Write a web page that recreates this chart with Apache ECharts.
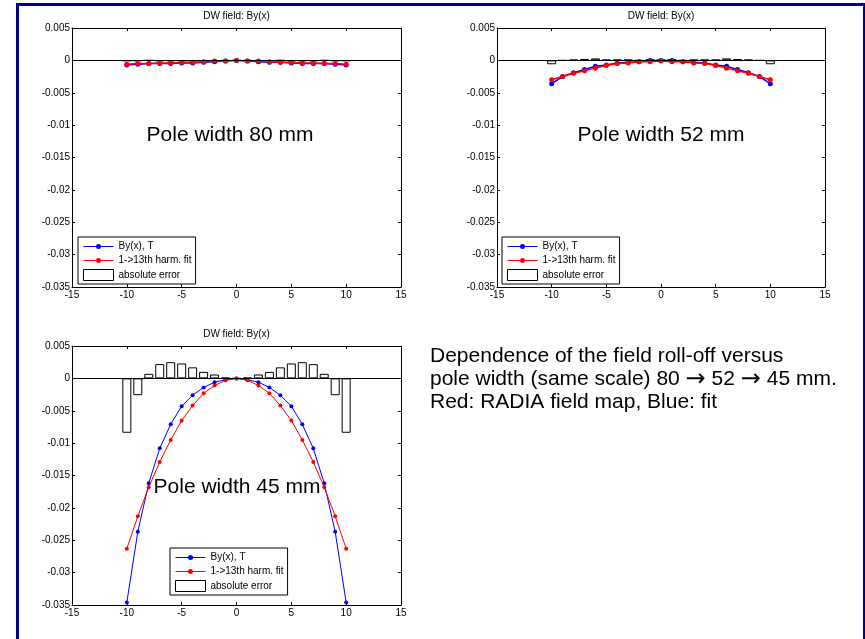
<!DOCTYPE html>
<html>
<head>
<meta charset="utf-8">
<script src="https://cdn.jsdelivr.net/npm/echarts@6.0.0/dist/echarts.min.js"></script>
<style>
  html, body { margin: 0; padding: 0; background: #fff; }
  #chart { width: 865px; height: 639px; }
</style>
</head>
<body>
<div id="chart"></div>
<script>
// x positions (mm)
const xs = [-10, -9, -8, -7, -6, -5, -4, -3, -2, -1, 0, 1, 2, 3, 4, 5, 6, 7, 8, 9, 10];
const xTicks = [-15, -10, -5, 0, 5, 10, 15];
const yTicks = ['-0.035', '-0.03', '-0.025', '-0.02', '-0.015', '-0.01', '-0.005', '0', '0.005'];

// pole width 80 mm
const blue80 = [-0.0007, -0.0006, -0.0005, -0.0005, -0.0005, -0.0004, -0.0004, -0.0003, -0.0002, -0.0001, 0,
  -0.0001, -0.0002, -0.0003, -0.0003, -0.0004, -0.0005, -0.0005, -0.0005, -0.0006, -0.0007];
const red80 = [-0.0006, -0.0005, -0.0005, -0.0004, -0.0004, -0.0003, -0.0003, -0.0002, -0.0001, -0.0001, 0,
  -0.0001, -0.0001, -0.0002, -0.0003, -0.0003, -0.0004, -0.0004, -0.0005, -0.0005, -0.0006];
const err80 = [-0.0001, -0.0001, 0, -0.0001, -0.0001, -0.0001, -0.0001, -0.0001, -0.0001, 0, 0,
  0, -0.0001, -0.0001, 0, -0.0001, -0.0001, -0.0001, 0, -0.0001, -0.0001];

// pole width 52 mm
const blue52 = [-0.0036, -0.0025, -0.0019, -0.0014, -0.0009, -0.0007, -0.0004, -0.0003, -0.0002, 0, 0,
  0, -0.0002, -0.0003, -0.0004, -0.0007, -0.0009, -0.0014, -0.0019, -0.0025, -0.0036];
const red52 = [-0.0030, -0.0025, -0.0020, -0.0016, -0.0012, -0.0008, -0.0005, -0.0004, -0.0002, -0.0002, -0.0001,
  -0.0002, -0.0002, -0.0004, -0.0005, -0.0008, -0.0012, -0.0016, -0.0020, -0.0025, -0.0030];
const err52 = [-0.0006, 0, 0.0001, 0.0002, 0.0003, 0.0001, 0.0001, 0.0001, 0, 0.0002, 0.0001,
  0.0002, 0, 0.0001, 0.0001, 0.0001, 0.0003, 0.0002, 0.0001, 0, -0.0006];

// pole width 45 mm
const blue45 = [-0.0346, -0.0237, -0.0162, -0.0108, -0.0071, -0.0043, -0.0026, -0.0014, -0.0006, -0.0002, 0,
  -0.0002, -0.0006, -0.0014, -0.0026, -0.0043, -0.0071, -0.0108, -0.0162, -0.0237, -0.0346];
const red45 = [-0.0263, -0.0213, -0.0168, -0.0129, -0.0095, -0.0065, -0.0042, -0.0023, -0.0011, -0.0003, 0,
  -0.0003, -0.0011, -0.0023, -0.0042, -0.0065, -0.0095, -0.0129, -0.0168, -0.0213, -0.0263];
const err45 = [-0.0084, -0.0026, 0.0007, 0.0022, 0.0025, 0.0023, 0.0017, 0.0010, 0.0006, 0.0001, 0,
  0.0001, 0.0006, 0.0010, 0.0017, 0.0023, 0.0025, 0.0022, 0.0007, -0.0026, -0.0084];

const FONT = "'Liberation Sans', Arial, sans-serif";
const NAMES = ['By(x), T', '1->13th harm. fit', 'absolute error'];
const LINE_ICON = 'path://M0,0M30,11M0,5h30v1h-30zM17.5,5.5a2.5,2.5,0,1,1,-5,0a2.5,2.5,0,1,1,5,0z';

const panels = [
  { grid: { left: 72, top: 28, width: 329, height: 259 }, blue: blue80, red: red80, err: err80,
    legend: { left: 78, top: 237 }, label: 'Pole width 80 mm', labelPos: [230, 135], sym: 5, lw: 1.5 },
  { grid: { left: 497, top: 28, width: 328, height: 259 }, blue: blue52, red: red52, err: err52,
    legend: { left: 502, top: 237 }, label: 'Pole width 52 mm', labelPos: [661, 135], sym: 5, lw: 1.5 },
  { grid: { left: 72, top: 346, width: 329, height: 259 }, blue: blue45, red: red45, err: err45,
    legend: { left: 170, top: 548 }, label: 'Pole width 45 mm', labelPos: [237, 487], sym: 4, lw: 1 }
];

const pairs = (vals) => xs.map((x, i) => [x, vals[i]]);

const grid = [], xAxis = [], yAxis = [], series = [], legend = [], graphic = [];

panels.forEach((p, k) => {
  grid.push(p.grid);
  const axisCommon = {
    type: 'value',
    gridIndex: k,
    axisLine: { show: true, onZero: false, lineStyle: { color: '#000', width: 1 } },
    axisTick: { show: true, inside: true, length: 3, lineStyle: { color: '#000' } },
    splitLine: { show: false }
  };
  ['bottom', 'top'].forEach((pos, j) => {
    xAxis.push(Object.assign({}, axisCommon, {
      position: pos, min: xTicks[0], max: xTicks[xTicks.length - 1], interval: 5,
      axisLabel: { show: j === 0, color: '#000', fontSize: 10, fontFamily: FONT, margin: 3 }
    }));
  });
  ['left', 'right'].forEach((pos, j) => {
    yAxis.push(Object.assign({}, axisCommon, {
      position: pos, min: -0.035, max: 0.005, interval: 0.005,
      axisLabel: {
        show: j === 0, color: '#000', fontSize: 10, fontFamily: FONT, margin: 2,
        formatter: (v) => yTicks[Math.round((v + 0.035) / 0.005)]
      }
    }));
  });

  series.push({
    name: NAMES[2], type: 'bar', xAxisIndex: 2 * k, yAxisIndex: 2 * k,
    data: pairs(p.err), barWidth: 9, z: 1,
    itemStyle: { color: '#fff', borderColor: '#000', borderWidth: 1 },
    markLine: {
      silent: true, symbol: ['none', 'none'], label: { show: false },
      lineStyle: { color: '#000', width: 1, type: 'solid' },
      data: [{ yAxis: 0 }]
    }
  });
  series.push({
    name: NAMES[0], type: 'line', xAxisIndex: 2 * k, yAxisIndex: 2 * k,
    data: pairs(p.blue), symbol: 'circle', symbolSize: p.sym, z: 3,
    lineStyle: { color: '#0000ff', width: p.lw }, itemStyle: { color: '#0000ff' }
  });
  series.push({
    name: NAMES[1], type: 'line', xAxisIndex: 2 * k, yAxisIndex: 2 * k,
    data: pairs(p.red), symbol: 'circle', symbolSize: p.sym, z: 4,
    lineStyle: { color: '#ff0000', width: p.lw }, itemStyle: { color: '#ff0000' }
  });

  legend.push({
    left: p.legend.left, top: p.legend.top, orient: 'vertical',
    itemWidth: 30, itemHeight: 11, itemGap: 3, selectedMode: false,
    padding: [4, 4, 3, 5], backgroundColor: '#fff', borderColor: '#000', borderWidth: 1,
    textStyle: { color: '#000', fontSize: 10, fontFamily: FONT },
    data: [
      { name: NAMES[0], icon: LINE_ICON },
      { name: NAMES[1], icon: LINE_ICON },
      { name: NAMES[2], icon: 'rect', itemStyle: { color: '#fff', borderColor: '#000', borderWidth: 1 } }
    ]
  });

  graphic.push({
    type: 'text', x: p.grid.left + p.grid.width / 2, y: p.grid.top - 12, z: 10,
    style: { text: 'DW field: By(x)', font: '10px ' + FONT, fill: '#000', align: 'center', verticalAlign: 'middle' }
  });
  graphic.push({
    type: 'text', x: p.labelPos[0], y: p.labelPos[1], z: 10,
    style: { text: p.label, font: '21px ' + FONT, fill: '#000', align: 'center', verticalAlign: 'middle' }
  });
});

graphic.push({
  type: 'text', x: 430, y: 345, z: 10,
  style: {
    text: 'Dependence of the field roll-off versus\npole width (same scale) 80 {a|\u2192} 52 {a|\u2192} 45 mm.\nRed: RADIA field map, Blue: fit',
    font: '21px ' + FONT, fill: '#000', lineHeight: 23, align: 'left', verticalAlign: 'top',
    rich: {
      a: { fontFamily: "'DejaVu Sans', sans-serif", fontSize: 24, lineHeight: 23, fill: '#000' }
    }
  }
});
// slide frame
graphic.push({
  type: 'polyline', z: 20, silent: true,
  shape: { points: [[17.5, 700], [17.5, 4.5], [864.5, 4.5], [864.5, 700]] },
  style: { stroke: '#000080', lineWidth: 3, fill: null }
});

const myChart = echarts.init(document.getElementById('chart'));
myChart.setOption({
  animation: false,
  backgroundColor: '#fff',
  textStyle: { fontFamily: FONT },
  grid, xAxis, yAxis, series, legend, graphic
});
window.addEventListener('resize', function () {
  myChart.resize();
});
</script>
</body>
</html>
